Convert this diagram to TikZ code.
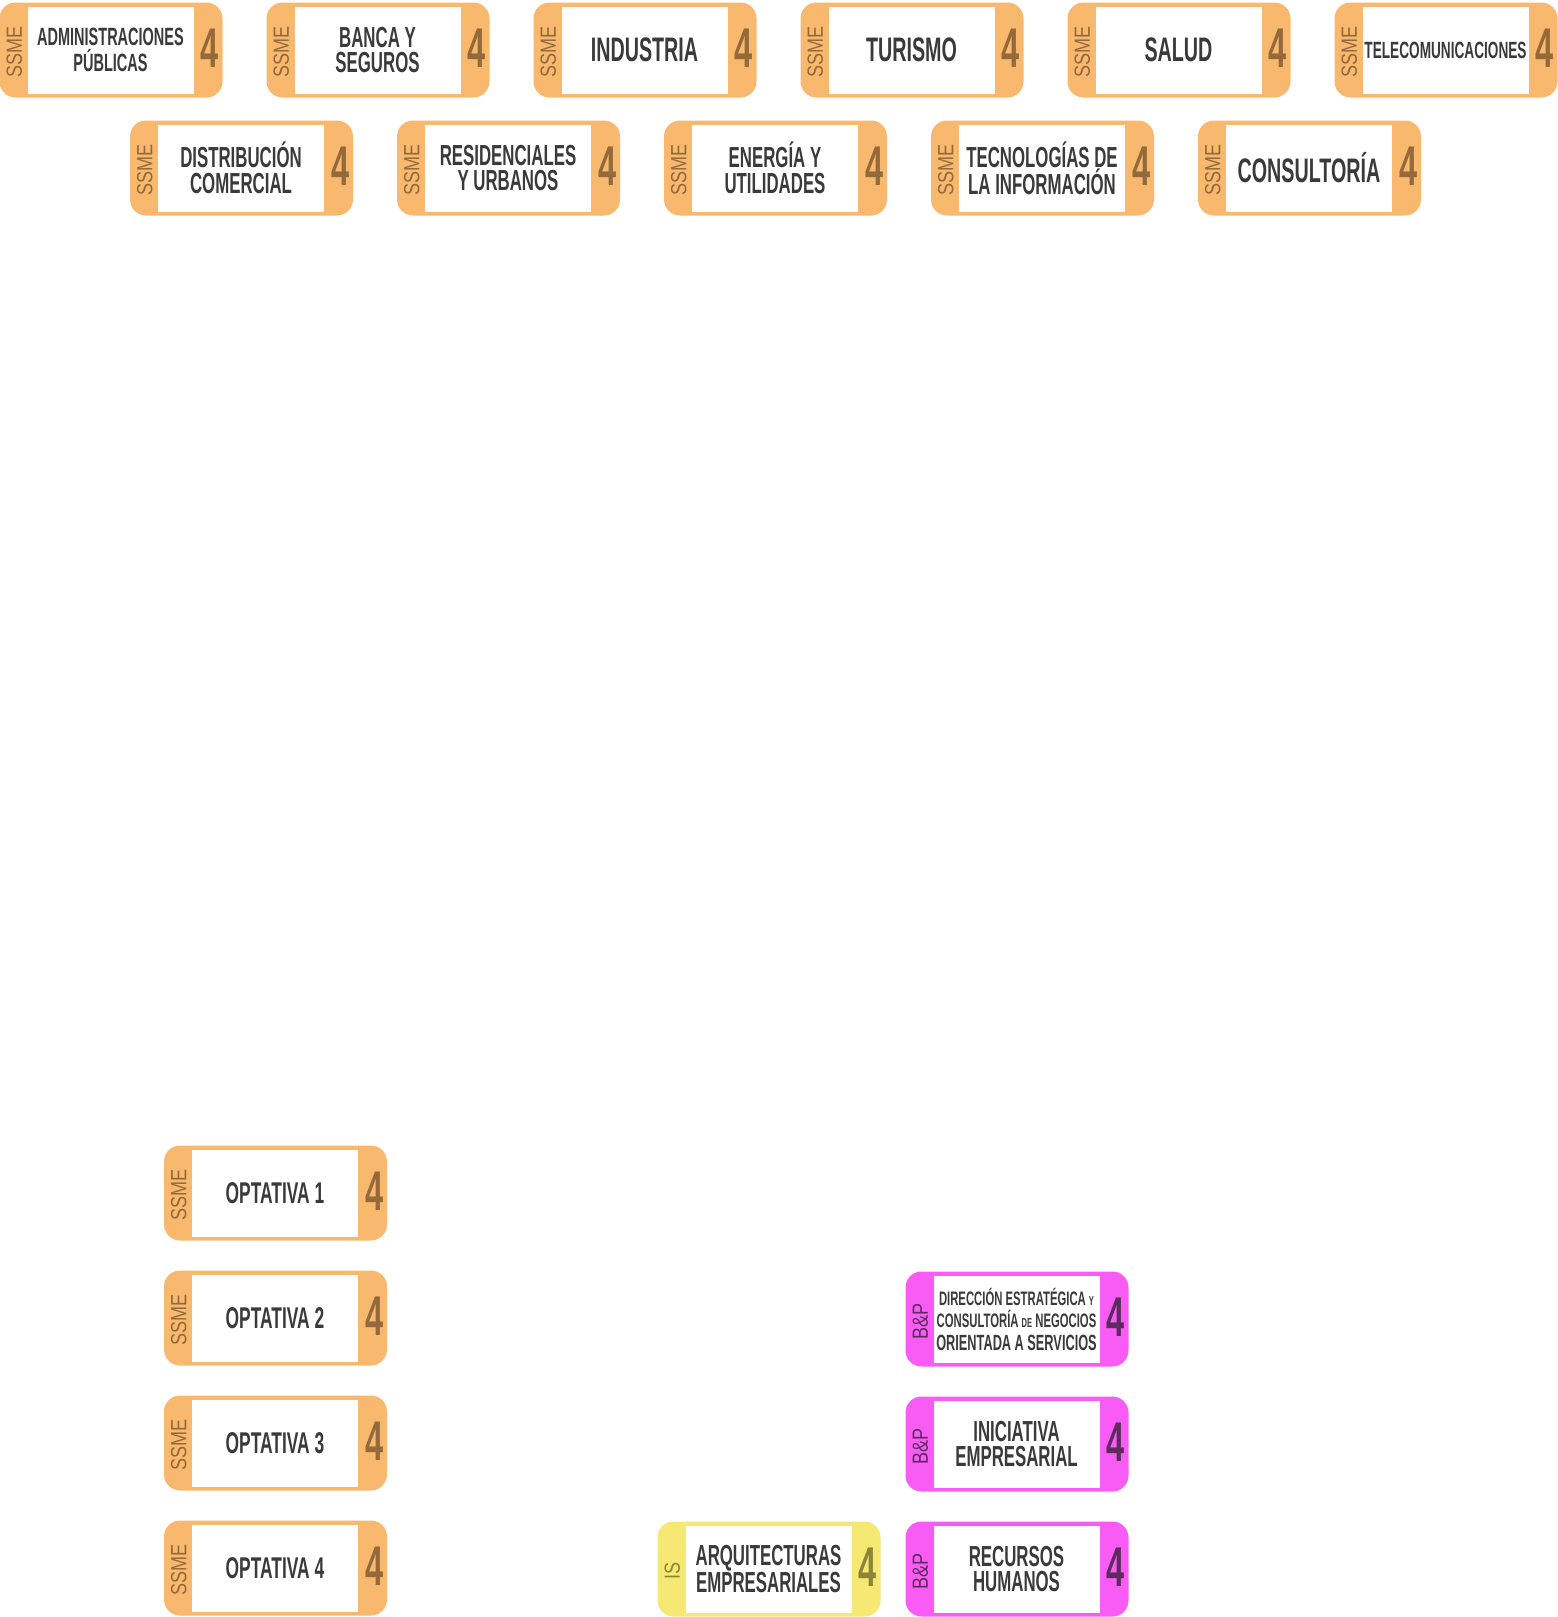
\documentclass[tikz,border=0pt]{standalone}
\usepackage{fontspec}
\usepackage{tikz}
\usetikzlibrary{positioning,calc}

\newfontfamily\cond{Liberation Sans}[FakeStretch=0.58]
\newfontfamily\tagfont{Liberation Sans}[FakeStretch=0.82]

\definecolor{ssmefill}{HTML}{F8B96F}
\definecolor{ssmeink}{HTML}{946A3A}
\definecolor{bpfill}{HTML}{F95CF5}
\definecolor{bpink}{HTML}{5C2C5C}
\definecolor{isfill}{HTML}{F5E873}
\definecolor{isink}{HTML}{8C8636}
\definecolor{titleink}{HTML}{3A3A3A}

% one course card: name, position, group, tag, size, title
\newcommand{\card}[6]{%
  \node[frame, fill=#3fill] (#1-frame) at (#2) {};
  \node[title, font=\cond\bfseries\fontsize{#5}{25.5}\selectfont] (#1) at ([xshift=-0.5pt]#1-frame.center) {#6};
  \node[tag, text=#3ink] (#1-tag) at ([xshift=15pt,yshift=-2pt]#1-frame.west) {#4};
  \node[credits, text=#3ink] (#1-cr) at ([xshift=-13pt,yshift=2pt]#1-frame.east) {4};
}

\begin{document}
\begin{tikzpicture}[
    x=1pt, y=-1pt,
    frame/.style={minimum width=223pt, minimum height=95pt, rounded corners=16pt, inner sep=0pt},
    title/.style={fill=white, minimum width=166pt, minimum height=87pt, inner sep=0pt,
                  align=center, text=titleink},
    tag/.style={rotate=90, inner sep=0pt, font=\tagfont\fontsize{22}{22}\selectfont},
    credits/.style={inner sep=0pt, font=\cond\bfseries\fontsize{56}{56}\selectfont}
]
\useasboundingbox (0,0) rectangle (1558,1617);

% sectores, first row
\card{admin}{111,50}{ssme}{SSME}{25}{ADMINISTRACIONES\\PÚBLICAS}
\card{banca}{378,50}{ssme}{SSME}{29}{BANCA Y\\SEGUROS}
\card{industria}{645,50}{ssme}{SSME}{34}{INDUSTRIA}
\card{turismo}{912,50}{ssme}{SSME}{34}{TURISMO}
\card{salud}{1179,50}{ssme}{SSME}{34}{SALUD}
\card{teleco}{1446,50}{ssme}{SSME}{23.5}{TELECOMUNICACIONES}

% sectores, second row
\card{distrib}{241.5,168}{ssme}{SSME}{29}{DISTRIBUCIÓN\\COMERCIAL}
\card{resid}{508.5,168}{ssme}{SSME}{29}{RESIDENCIALES\\Y URBANOS}
\card{energia}{775.5,168}{ssme}{SSME}{29}{ENERGÍA Y\\UTILIDADES}
\card{tecno}{1042.5,168}{ssme}{SSME}{29}{TECNOLOGÍAS DE\\LA INFORMACIÓN}
\card{consult}{1309.5,168}{ssme}{SSME}{34}{CONSULTORÍA}

% optativas
\card{opt1}{275.5,1193}{ssme}{SSME}{30}{OPTATIVA 1}
\card{opt2}{275.5,1318}{ssme}{SSME}{30}{OPTATIVA 2}
\card{opt3}{275.5,1443}{ssme}{SSME}{30}{OPTATIVA 3}
\card{opt4}{275.5,1568}{ssme}{SSME}{30}{OPTATIVA 4}

% business and people
\card{direccion}{1017,1319}{bp}{B\&P}{19.5}{DIRECCIÓN ESTRATÉGICA {\fontsize{13}{13}\selectfont Y}\\[-3pt]
  CONSULTORÍA {\fontsize{13}{13}\selectfont DE} NEGOCIOS\\[-3pt]
  {\fontsize{22}{22}\selectfont ORIENTADA A SERVICIOS}}
\card{iniciativa}{1017,1444}{bp}{B\&P}{29}{INICIATIVA\\EMPRESARIAL}
\card{rrhh}{1017,1569}{bp}{B\&P}{29}{RECURSOS\\HUMANOS}

% information systems
\card{arq}{769,1569}{is}{IS}{29}{ARQUITECTURAS\\EMPRESARIALES}
\end{tikzpicture}
\end{document}
